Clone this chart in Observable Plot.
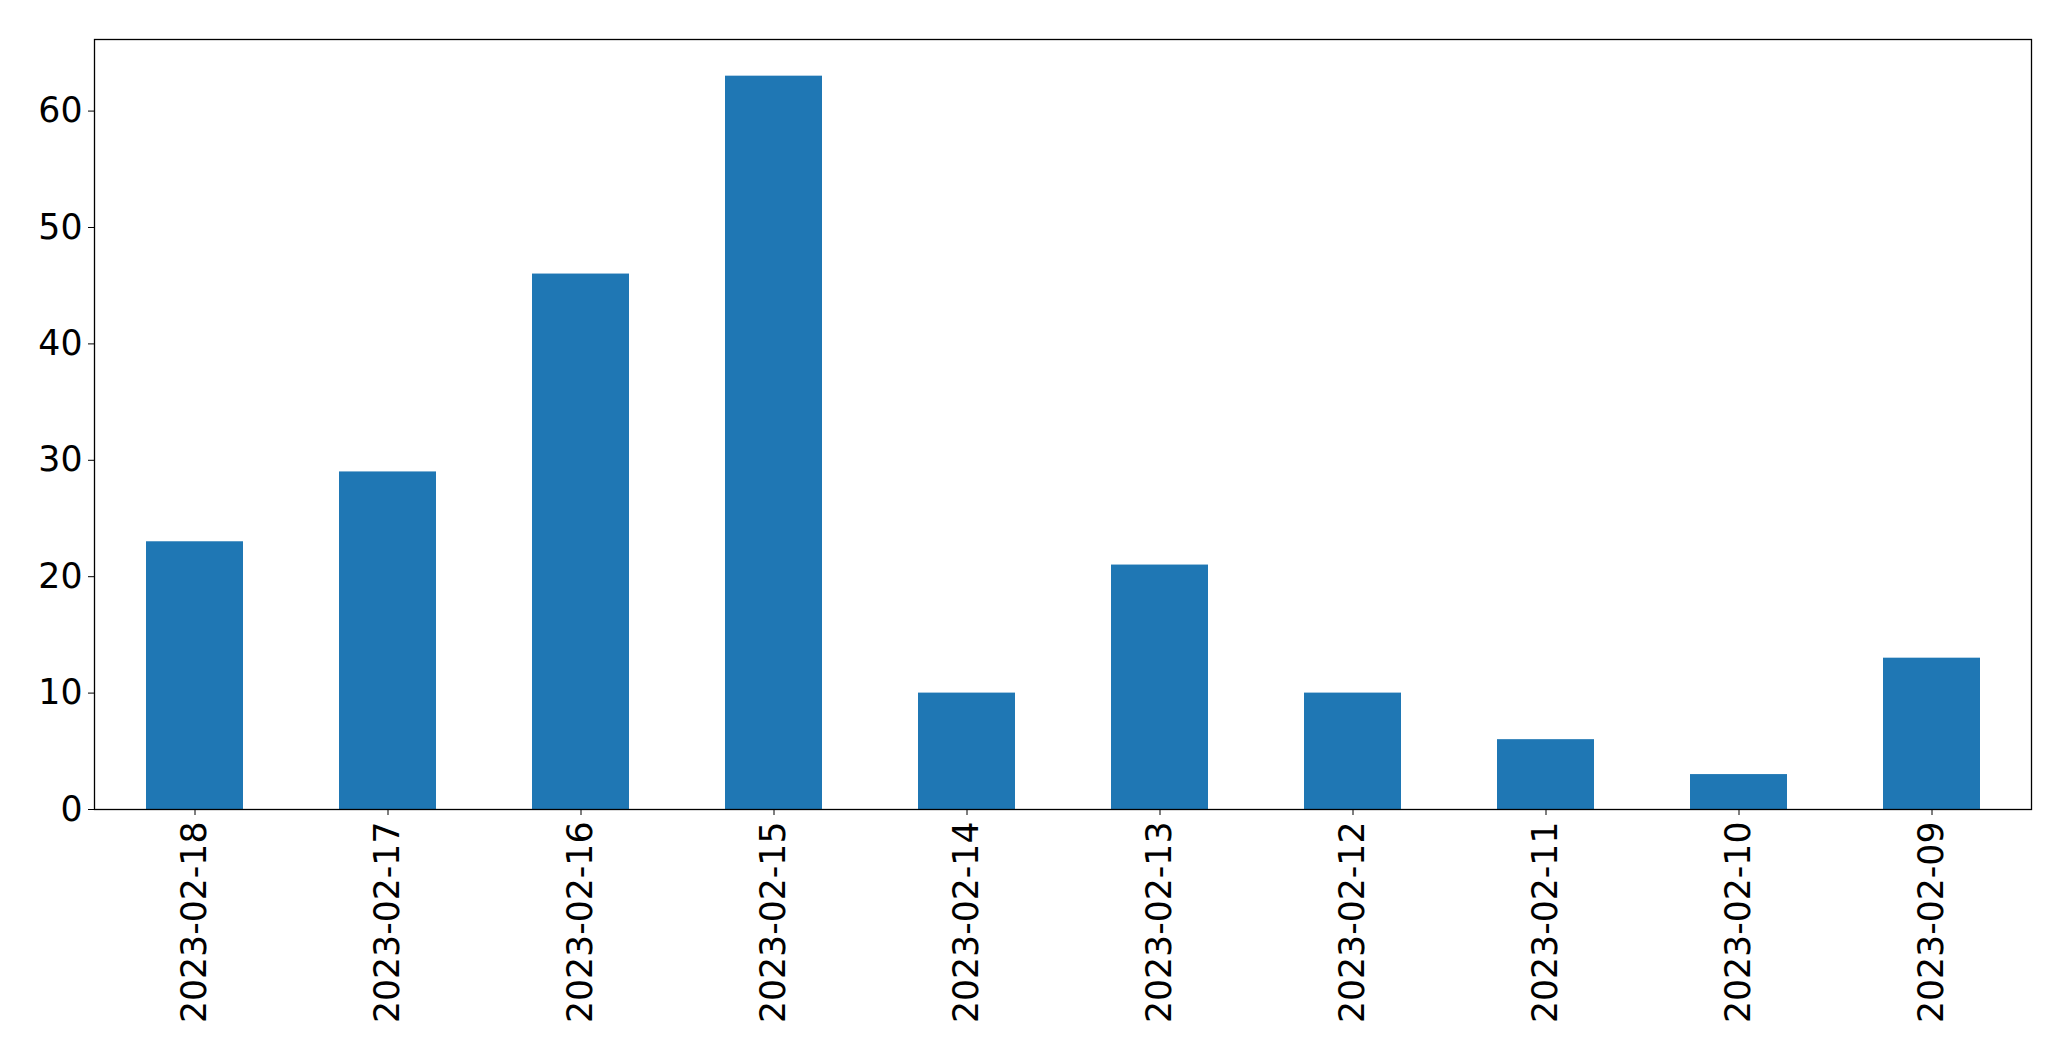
<!DOCTYPE html>
<html>
<head>
<meta charset="utf-8">
<script src="https://cdn.jsdelivr.net/npm/d3@7"></script>
<script src="https://cdn.jsdelivr.net/npm/@observablehq/plot@0.6"></script>
<style>
  html, body { margin: 0; padding: 0; background: #fff; }
  #chart svg { display: block; }
</style>
</head>
<body>
<div id="chart"></div>
<script>
const dates = ["2023-02-18","2023-02-17","2023-02-16","2023-02-15","2023-02-14","2023-02-13","2023-02-12","2023-02-11","2023-02-10","2023-02-09"];
const counts = [23, 29, 46, 63, 10, 21, 10, 6, 3, 13];
const yTicks = [0, 10, 20, 30, 40, 50, 60];

const data = dates.map((d, i) => ({date: d, count: counts[i]}));

const chart = Plot.plot({
  width: 2071,
  height: 1061,
  marginLeft: 94,
  marginRight: 40,
  marginTop: 39,
  marginBottom: 252,
  style: {fontFamily: "DejaVu Sans", fontSize: "34.7px", color: "#000", background: "#fff"},
  x: {type: "band", domain: dates, paddingInner: 0.5, paddingOuter: 0.25, align: 0.5, label: null},
  y: {domain: [0, 66.15], label: null},
  marks: [
    Plot.barY(data, {x: "date", y: "count", fill: "#1f77b4"}),
    Plot.axisX({ticks: dates, tickSize: 6, tickPadding: 6, tickRotate: -90, label: null, fontSize: "34.7px"}),
    Plot.axisY({ticks: yTicks, tickSize: 6, tickPadding: 6, label: null, fontSize: "34.7px"}),
    Plot.frame({stroke: "#000", strokeWidth: 1.3})
  ]
});
document.getElementById("chart").appendChild(chart);
</script>
</body>
</html>
